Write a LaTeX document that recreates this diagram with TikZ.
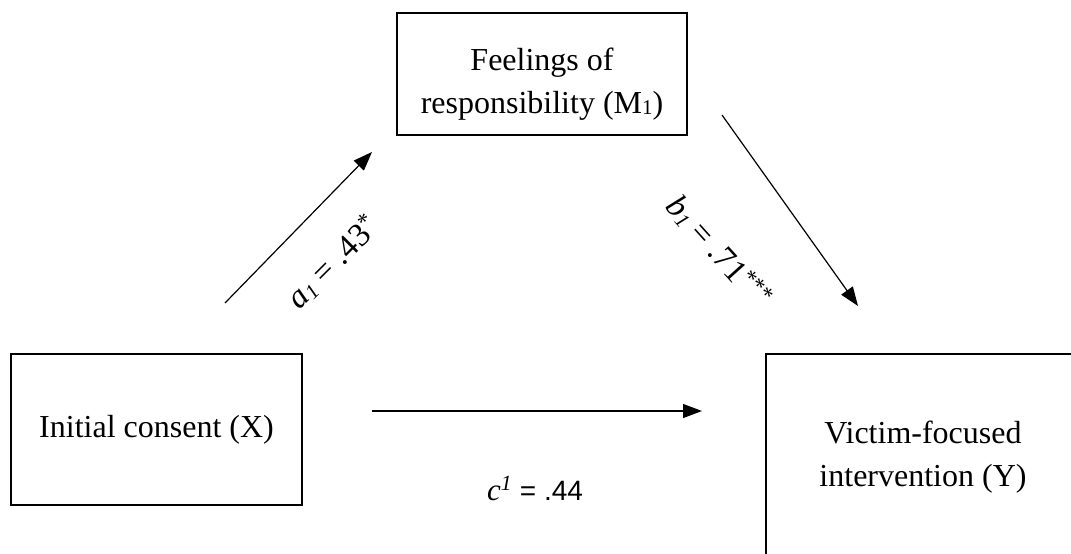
\documentclass[tikz,border=0pt]{standalone}
\usepackage{fontspec}
\setmainfont{Liberation Serif}
\newfontfamily\arialf{Liberation Sans}
\usetikzlibrary{arrows.meta}
\begin{document}
\begin{tikzpicture}[x=1pt,y=-1pt,
  box/.style={draw, line width=1.2pt, inner sep=0pt, align=center,
    font=\fontsize{32}{43}\selectfont},
  boxtext/.style={inner sep=0pt, align=center, font=\fontsize{32}{43}\selectfont},
  arr/.style={line width=1.2pt, -{Triangle[length=19pt,width=14pt]}},
  lbl/.style={inner sep=0pt, font=\fontsize{33}{36}\selectfont}]
\useasboundingbox (0,0) rectangle (1071,554);
\clip (0,0) rectangle (1071,554);
\node[box, minimum width=290pt, minimum height=122pt] (m) at (542,74) {};
\node[boxtext] (mt) at (542,84)
  {Feelings of\\responsibility (M{\fontsize{21}{21}\selectfont\raisebox{-1.5pt}{1}})};
\node[box, minimum width=291pt, minimum height=151pt] (x) at (156.5,429.5)
  {Initial consent (X)};
\node[box, minimum width=314pt, minimum height=206pt] (y) at (923,457)
  {Victim-focused\\intervention (Y)};
\coordinate (as) at (225,303);
\coordinate (ae) at (372,152);
\coordinate (bs) at (722,115);
\coordinate (be) at (858,306);
\coordinate (cs) at (372,411);
\coordinate (ce) at (702,411);
\draw[arr] (as) -- (ae);
\draw[arr] (bs) -- (be);
\draw[arr] (cs) -- (ce);
\node[lbl, rotate=45] (la) at (333,262)
  {\textit{a}{\fontsize{21}{21}\selectfont\raisebox{-3pt}{\textit{1}}} = .43\textsuperscript{*}};
\node[lbl, rotate=-48] (lb) at (719,252)
  {\textit{b}{\fontsize{21}{21}\selectfont\raisebox{-3pt}{\textit{1}}} = .71\textsuperscript{***}};
\node[lbl, anchor=base] (lc) at (535,500)
  {\fontsize{31}{36}\selectfont\textit{c}\textsuperscript{\textit{1}} {\arialf\fontsize{28}{36}\selectfont= .44}};
\end{tikzpicture}
\end{document}
